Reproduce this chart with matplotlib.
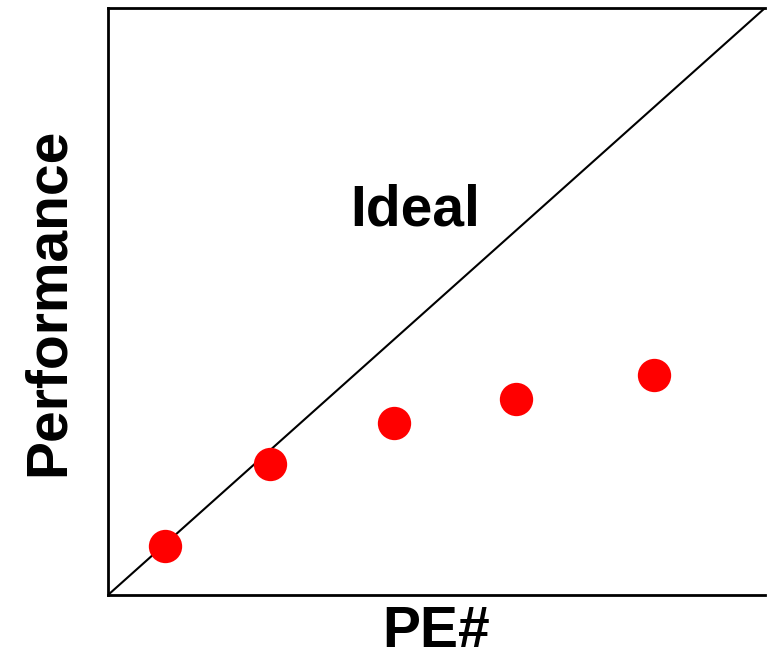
import matplotlib
matplotlib.use("Agg")
import matplotlib.pyplot as plt

# Measured speedup vs. number of processing elements (normalised axes)
pe_count = [0.087, 0.247, 0.435, 0.621, 0.831]
performance = [0.084, 0.223, 0.293, 0.334, 0.375]

plt.rcParams["font.family"] = ["Liberation Sans", "DejaVu Sans"]

fig = plt.figure(figsize=(7.67, 6.65), dpi=100)
ax = fig.add_axes([108 / 767, 70 / 665, 657 / 767, 587 / 665])

# Ideal linear scaling
ax.plot([0, 1], [0, 1], color="black", linewidth=1.5, solid_capstyle="butt")
ax.plot(pe_count, performance, "o", color="#ff0000", markersize=24,
        markeredgewidth=0, clip_on=False)

ax.text(0.468, 0.655, "Ideal", fontsize=41, fontweight="bold",
        ha="center", va="center", transform=ax.transAxes)

ax.set_xlim(0, 1)
ax.set_ylim(0, 1)
ax.set_xticks([])
ax.set_yticks([])
for side in ["left", "bottom", "top"]:
    ax.spines[side].set_linewidth(2)
ax.spines["right"].set_visible(False)

ax.set_xlabel("PE#", fontsize=41, fontweight="bold", labelpad=7)
ax.set_ylabel("Performance", fontsize=41, fontweight="bold", labelpad=23)

fig.savefig("out.png", dpi=100)
